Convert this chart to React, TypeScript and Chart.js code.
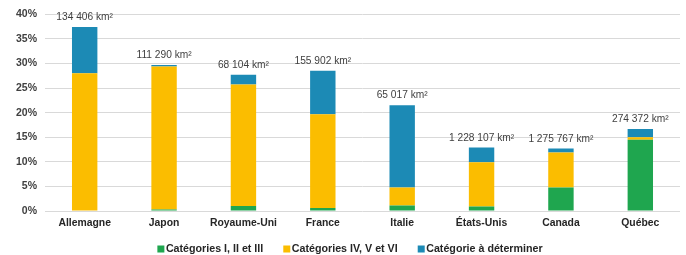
import React, { useEffect, useRef } from "react";
import { Chart, registerables } from "chart.js";

Chart.register(...registerables);

const categories = ["Allemagne", "Japon", "Royaume-Uni", "France", "Italie", "États-Unis", "Canada", "Québec"];
const areaLabels = ["134 406 km²", "111 290 km²", "68 104 km²", "155 902 km²", "65 017 km²", "1 228 107 km²", "1 275 767 km²", "274 372 km²"];
const catI_III = [0, 0.3, 1.0, 0.6, 1.1, 0.9, 4.8, 14.5];
const catIV_VI = [28.0, 29.1, 24.7, 19.1, 3.7, 9.0, 7.1, 0.5];
const catUndetermined = [9.4, 0.3, 2.0, 8.8, 16.7, 3.0, 0.8, 1.7];
const seriesNames = ["Catégories I, II et III", "Catégories IV, V et VI", "Catégorie à déterminer"];
const seriesColors = ["#1fa64f", "#fbbd00", "#1c8ab5"];
const yTicks = [0, 5, 10, 15, 20, 25, 30, 35, 40];

const FONT = "'Liberation Sans', Arial, sans-serif";

const topLabels = {
  id: "topLabels",
  afterDatasetsDraw(chart: any) {
    const ctx = chart.ctx;
    const metas = chart.data.datasets.map((_: any, i: number) => chart.getDatasetMeta(i));
    ctx.save();
    ctx.font = `normal 10.2px ${FONT}`;
    ctx.fillStyle = "#3f3f3f";
    ctx.textAlign = "center";
    ctx.textBaseline = "alphabetic";
    categories.forEach((_, i) => {
      let top = Infinity;
      let x = 0;
      metas.forEach((m: any) => {
        const el = m.data[i];
        if (el) {
          top = Math.min(top, el.y);
          x = el.x;
        }
      });
      ctx.fillText(areaLabels[i], x, top - 7);
    });
    ctx.restore();
  },
};

const customLegend = {
  id: "customLegend",
  afterDraw(chart: any) {
    const ctx = chart.ctx;
    ctx.save();
    ctx.font = `bold 10.7px ${FONT}`;
    ctx.textBaseline = "middle";
    ctx.textAlign = "left";
    const box = 7;
    const gapBoxText = 1.5;
    const gapItems = 20;
    const widths = seriesNames.map((n) => ctx.measureText(n).width);
    const total = widths.reduce((a, w) => a + box + gapBoxText + w, 0) + gapItems * (seriesNames.length - 1);
    let x = 350 - total / 2;
    const cy = 249;
    seriesNames.forEach((n, i) => {
      ctx.fillStyle = chart.data.datasets[i].backgroundColor;
      ctx.fillRect(x, cy - box / 2, box, box);
      x += box + gapBoxText;
      ctx.fillStyle = "#262626";
      ctx.fillText(n, x, cy);
      x += widths[i] + gapItems;
    });
    ctx.restore();
  },
};

export default function App() {
  const ref = useRef<HTMLCanvasElement>(null);
  useEffect(() => {
    if (!ref.current) return;
    const chart = new Chart(ref.current, {
      type: "bar",
      data: {
        labels: categories,
        datasets: [
          { label: seriesNames[0], data: catI_III, backgroundColor: seriesColors[0] },
          { label: seriesNames[1], data: catIV_VI, backgroundColor: seriesColors[1] },
          { label: seriesNames[2], data: catUndetermined, backgroundColor: seriesColors[2] },
        ],
      },
      options: {
        responsive: false,
        animation: false,
        layout: { padding: { left: 0, right: 6, top: 9, bottom: 24 } },
        datasets: {
          bar: { categoryPercentage: 0.8, barPercentage: 0.4 },
        },
        scales: {
          x: {
            stacked: true,
            grid: { display: false, drawTicks: false },
            border: { display: false },
            ticks: {
              color: "#262626",
              font: { family: FONT, size: 10.4, weight: "bold" },
              padding: 6,
              maxRotation: 0,
              autoSkip: false,
            },
            afterFit(scale: any) {
              scale.height = 20;
            },
          },
          y: {
            stacked: true,
            min: 0,
            max: 40,
            afterBuildTicks(scale: any) {
              scale.ticks = yTicks.map((v) => ({ value: v }));
            },
            grid: { color: "#d9d9d9", drawTicks: false },
            border: { display: false },
            ticks: {
              color: "#404040",
              font: { family: FONT, size: 10.5, weight: "bold" },
              padding: 8,
              callback: (v: any) => `${v}%`,
            },
            afterFit(scale: any) {
              scale.width = 45;
            },
          },
        },
        plugins: {
          legend: { display: false },
          tooltip: { enabled: false },
        },
      },
      plugins: [topLabels, customLegend],
    });
    return () => chart.destroy();
  }, []);
  return (
    <div style={{ position: "absolute", left: 0, top: 0, width: 686, height: 255, background: "#fff" }}>
      <canvas ref={ref} width={686} height={255} />
    </div>
  );
}
